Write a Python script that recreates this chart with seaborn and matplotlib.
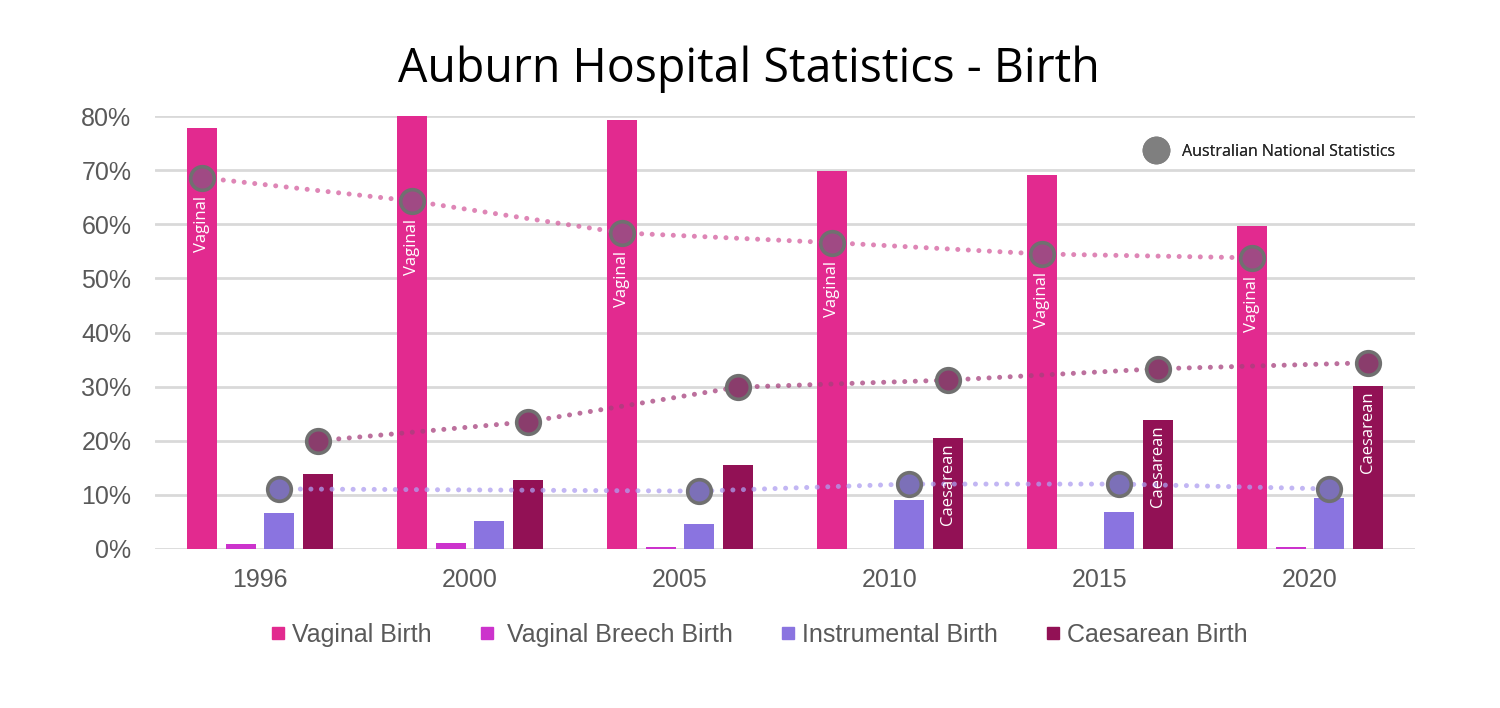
import numpy as np
import pandas as pd
import matplotlib
matplotlib.use("Agg")
import matplotlib.pyplot as plt
from matplotlib.lines import Line2D
from matplotlib.ticker import FuncFormatter
import seaborn as sns

# ---------------- data ----------------
years = ["1996", "2000", "2005", "2010", "2015", "2020"]
series_names = ["Vaginal Birth", "Vaginal Breech Birth", "Instrumental Birth", "Caesarean Birth"]
vaginal = [77.8, 80.0, 79.3, 69.9, 69.1, 59.7]
breech = [0.9, 1.1, 0.3, 0.0, 0.0, 0.3]
instrumental = [6.7, 5.1, 4.6, 9.0, 6.9, 9.5]
caesarean = [13.8, 12.8, 15.5, 20.6, 23.8, 30.1]

nat_vaginal = [68.6, 64.3, 58.4, 56.6, 54.5, 53.8]
nat_instrumental = [11.1, np.nan, 10.7, 12.0, 12.0, 11.1]
nat_caesarean = [20.0, 23.5, 29.9, 31.2, 33.3, 34.4]

vaginal_labels = ["Vaginal"] * 6
caesarean_labels = ["", "", "", "Caesarean", "Caesarean", "Caesarean"]

y_ticks = [0, 10, 20, 30, 40, 50, 60, 70, 80]

# ---------------- style ----------------
bar_colors = ["#E22A8F", "#CC33CC", "#8A74E0", "#921155"]
line_colors = {"v": "#D45E9E", "i": "#AE9EF0", "c": "#A6407C"}
marker_faces = {"v": "#A04A84", "i": "#7C70B8", "c": "#8A3D6C"}
grey_txt = "#595959"

sns.set_theme(style="white")
plt.rcParams["font.family"] = ["Liberation Sans", "DejaVu Sans"]

df = pd.DataFrame({
    "year": np.tile(years, 4),
    "series": np.repeat(series_names, 6),
    "value": vaginal + breech + instrumental + caesarean,
})

fig = plt.figure(figsize=(15, 7.08), dpi=100)
ax = fig.add_axes([155 / 1500, 1 - 549 / 708, 1260 / 1500, 433 / 708])

sns.barplot(data=df, x="year", y="value", hue="series", order=years,
            hue_order=series_names, palette=bar_colors, width=0.733, gap=0.22,
            saturation=1, legend=False, ax=ax, linewidth=0, zorder=2)

ax.set_ylim(0, 80)
ax.set_xlim(-0.5, 5.5)
ax.set_yticks(y_ticks)
ax.yaxis.set_major_formatter(FuncFormatter(lambda v, p: f"{v:.0f}%"))
ax.set_xlabel("")
ax.set_ylabel("")
ax.grid(axis="y", color="#D9D9D9", linewidth=2.0, zorder=0)
ax.set_axisbelow(True)
for s in ax.spines.values():
    s.set_visible(False)
ax.tick_params(axis="both", length=0, labelsize=18, labelcolor=grey_txt)
ax.tick_params(axis="y", pad=17)
ax.tick_params(axis="x", pad=14)

# x centers of bars from seaborn's containers
centers = [np.array([p.get_x() + p.get_width() / 2 for p in c]) for c in ax.containers]
xv, xb, xi, xc = centers

def nat_line(x, vals, key):
    vals = np.asarray(vals, dtype=float)
    m = ~np.isnan(vals)
    ax.plot(x[m], vals[m], color=line_colors[key], lw=3.6, alpha=0.75,
            linestyle=(0, (0.01, 2.1)), dash_capstyle="round", zorder=3)
    ax.plot(x[m], vals[m], linestyle="none", marker="o", markersize=17,
            markerfacecolor=marker_faces[key], markeredgecolor="#707070",
            markeredgewidth=2.6, zorder=4)

nat_line(xv, nat_vaginal, "v")
nat_line(xi, nat_instrumental, "i")
nat_line(xc, nat_caesarean, "c")

for x, y, t in zip(xv, nat_vaginal, vaginal_labels):
    ax.annotate(t, (x, y), xytext=(0, -13), textcoords="offset points",
                rotation=90, ha="center", va="top", color="white",
                fontsize=12, family="Open Sans", zorder=5)
for x, y, t in zip(xc, caesarean, caesarean_labels):
    if t:
        ax.annotate(t, (x, y), xytext=(0, -4), textcoords="offset points",
                    rotation=90, ha="center", va="top", color="white",
                    fontsize=12, family="Open Sans", zorder=5)

# title
fig.text(749 / 1500, 1 - 82 / 708, "Auburn Hospital Statistics - Birth",
         ha="center", va="baseline", fontsize=33.5, family="Open Sans", color="black")

# national statistics legend
h_nat = Line2D([], [], linestyle="none", marker="o", markersize=19,
               markerfacecolor="#7F7F7F", markeredgecolor="#7F7F7F")
leg1 = ax.legend([h_nat], ["Australian National Statistics"], loc="center right",
                 bbox_to_anchor=(1409 / 1500, 1 - 152 / 708), bbox_transform=fig.transFigure,
                 frameon=False, handletextpad=1.0, handlelength=1.2,
                 prop={"family": "Open Sans", "size": 11.5})
for t in leg1.get_texts():
    t.set_color("#262626")
ax.add_artist(leg1)

# bottom legend
handles = [Line2D([], [], linestyle="none", marker="s", markersize=8,
                  markerfacecolor=c, markeredgecolor=c) for c in bar_colors]
labels = ["Vaginal Birth", " Vaginal Breech Birth", "Instrumental Birth", "Caesarean Birth"]
leg2 = fig.legend(handles, labels, loc="center", bbox_to_anchor=(759 / 1500, 1 - 635 / 708),
                  ncol=4, frameon=False, handlelength=0.6, handletextpad=0.25,
                  columnspacing=1.9, prop={"family": "Liberation Sans", "size": 18})
for t in leg2.get_texts():
    t.set_color(grey_txt)

fig.savefig("out.png", dpi=100, facecolor="white")
